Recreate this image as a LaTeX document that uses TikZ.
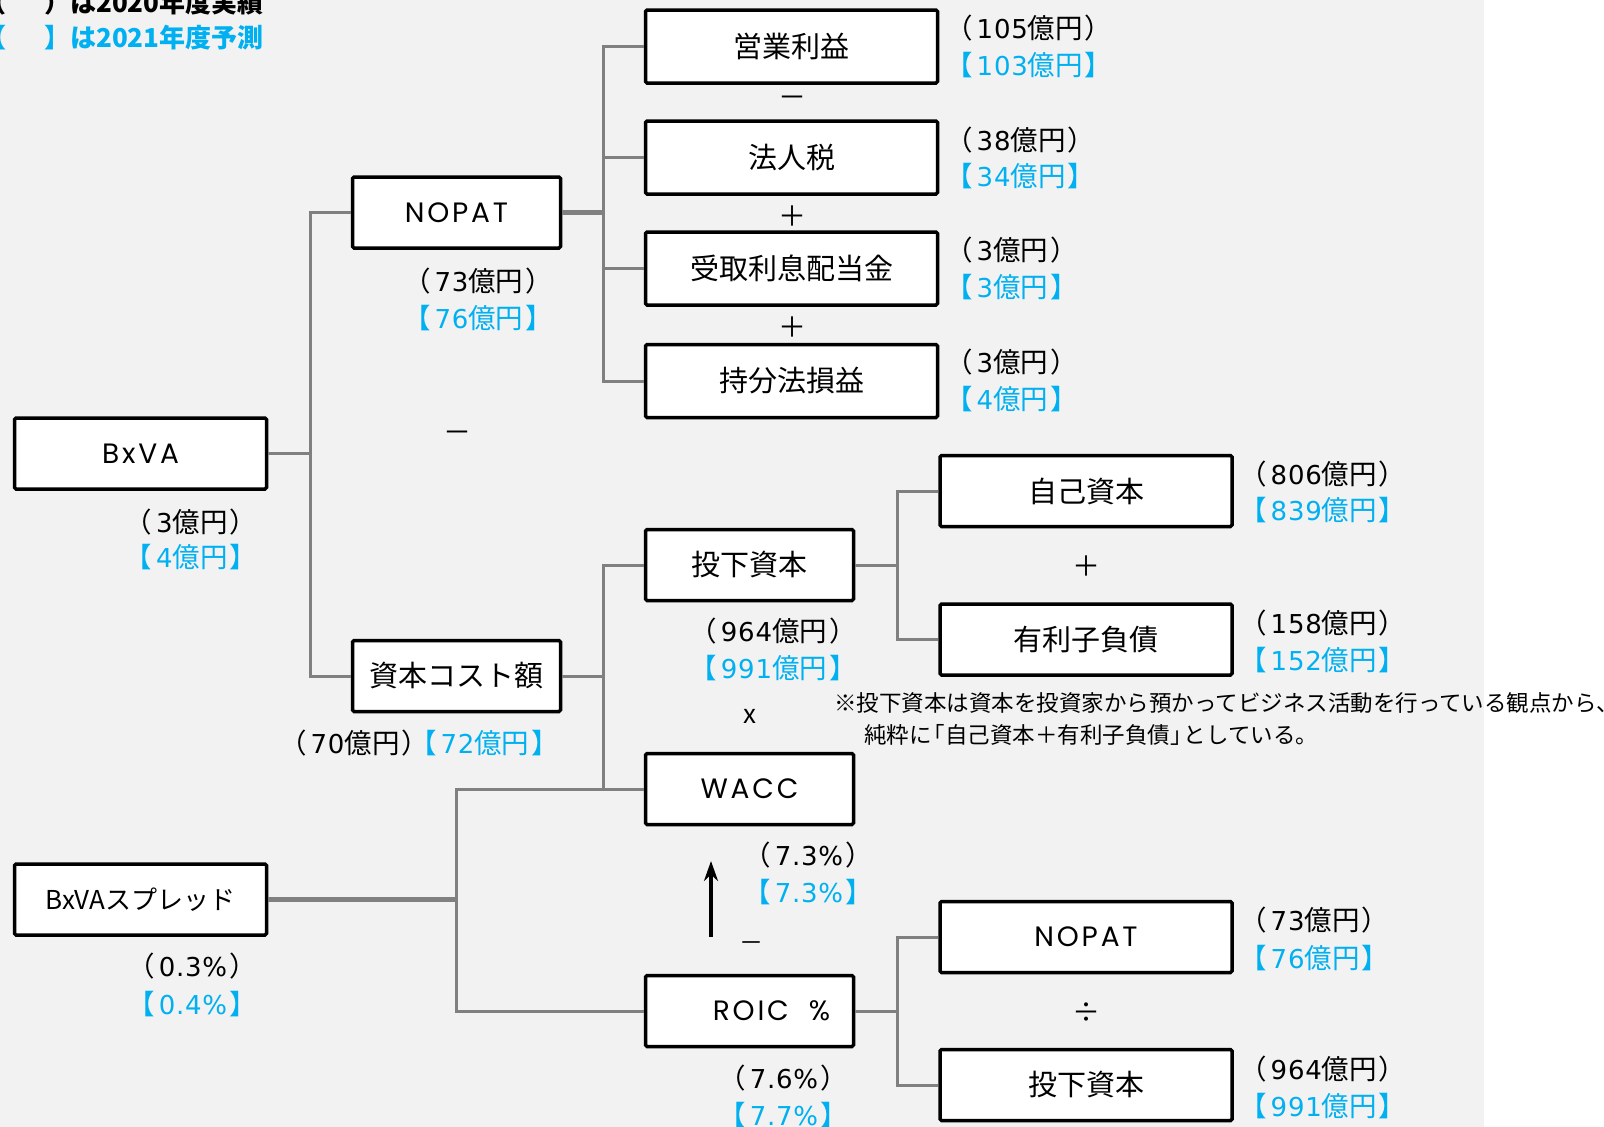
\documentclass[tikz,border=0pt]{standalone}
\usepackage{fontspec}
\newfontfamily\jp{Noto Sans CJK JP}
\newfontfamily\latb[LetterSpace=10]{Poppins}
\newfontfamily\latd[LetterSpace=3]{DejaVu Sans}
\usetikzlibrary{arrows.meta}
\definecolor{bg}{HTML}{F2F2F2}
\definecolor{cy}{HTML}{00B0F0}
\definecolor{ln}{HTML}{808080}
\newcommand\lt[1]{{\latb\fontsize{28}{30}\selectfont #1}}
\newcommand\dg[1]{\hspace{4pt}{\latd\fontsize{26}{29}\selectfont #1}}
\newcommand\pr[1]{（\dg{#1}億円\hspace{2pt}）}
\newcommand\br[1]{【\dg{#1}億円\hspace{2pt}】}
\newcommand\ppr[1]{（\dg{#1}\hspace{2pt}）}
\newcommand\pbr[1]{【\dg{#1}\hspace{2pt}】}
\begin{document}
\begin{tikzpicture}[x=1pt,y=-1pt,
  box/.style={draw=black, line width=3.5pt, fill=white, rounded corners=1.5pt, inner sep=0pt,
    minimum height=71pt, font=\jp\fontsize{29}{31}\selectfont},
  wbox/.style={box, minimum width=292pt},
  tbox/.style={wbox, minimum height=73pt},
  sbox/.style={box, minimum width=208pt},
  mbox/.style={box, minimum width=252pt},
  val/.style={inner sep=0pt, font=\jp\fontsize{27.5}{29}\selectfont},
  cval/.style={val, text=cy},
  op/.style={inner sep=0pt, font=\jp\fontsize{28}{30}\selectfont},
  conn/.style={draw=ln, line width=3pt},
  thick conn/.style={draw=ln, line width=4.5pt},
  note/.style={inner sep=0pt, anchor=west, font=\jp\fontsize{22.5}{24}\selectfont},
  legend/.style={inner sep=0pt, anchor=west, font=\jp\bfseries\fontsize{26}{28}\selectfont}
]
\useasboundingbox (0,0) rectangle (1604,1127);
\clip (0,0) rectangle (1604,1127);
\fill[white] (0,0) rectangle (1604,1127);
\fill[bg] (0,0) rectangle (1484,1127);

% legend
\node[legend] (leg1) at (-20,3) {（\hspace{38pt}）は2020年度実績};
\node[legend, text=cy] (leg2) at (-20,38) {【\hspace{38pt}】は2021年度予測};

% boxes
\node[tbox] (eigyo) at (791.5,46.5) {営業利益};
\node[tbox] (hojin) at (791.5,157.5) {法人税};
\node[tbox] (uketori) at (791.5,268.5) {受取利息配当金};
\node[tbox] (mochi) at (791.5,381) {持分法損益};
\node[sbox] (nopat1) at (456.5,212.5) {\lt{NOPAT}};
\node[mbox] (bxva) at (140.5,453.5) {\lt{BxVA}};
\node[sbox] (cost) at (456.5,676) {資本コスト額};
\node[sbox] (toka1) at (749.5,565) {投下資本};
\node[wbox] (jiko) at (1086,491) {自己資本};
\node[wbox] (yuri) at (1086,639.5) {有利子負債};
\node[sbox] (wacc) at (749.5,789) {\lt{WACC}};
\node[sbox] (roic) at (749.5,1011) {\hspace*{44pt}\lt{ROIC}\hspace{20pt}\lt{\%}};
\node[wbox] (nopat2) at (1086,937) {\lt{NOPAT}};
\node[wbox] (toka2) at (1086,1085) {投下資本};
\node[mbox, font=\jp\fontsize{26}{28}\selectfont] (spread) at (140.5,899.5) {BxVAスプレッド};

% connectors
\coordinate (j1) at (603,212.5);
\draw[thick conn] (nopat1.east) -- (j1);
\draw[conn] (eigyo.west) -| (j1) |- (mochi.west);
\draw[conn] (hojin.west) -- (hojin.west -| j1);
\draw[conn] (uketori.west) -- (uketori.west -| j1);

\coordinate (j2) at (310,453.5);
\draw[conn] (bxva.east) -- (j2);
\draw[conn] (nopat1.west) -| (j2) |- (cost.west);

\coordinate (j3) at (603,676);
\draw[conn] (cost.east) -- (j3);
\draw[conn] (toka1.west) -| (j3) |- (wacc.west);

\coordinate (j4) at (897,565);
\draw[conn] (toka1.east) -- (j4);
\draw[conn] (jiko.west) -| (j4) |- (yuri.west);

\coordinate (j5) at (456,899.5);
\draw[thick conn] (spread.east) -- (j5);
\draw[conn] (wacc.west) -| (j5) |- (roic.west);

\coordinate (j6) at (897,1011);
\draw[conn] (roic.east) -- (j6);
\draw[conn] (nopat2.west) -| (j6) |- (toka2.west);

% arrow
\coordinate (a1) at (711,937);
\coordinate (a2) at (711,861);
\draw[line width=3.5pt, -{Stealth[length=20pt,width=14pt]}] (a1) -- (a2);

% operators
\node[op] (o1) at (792,102) {－};
\node[op] (o2) at (792,216) {＋};
\node[op] (o3) at (792,327) {＋};
\node[op] (o4) at (457,437) {－};
\node[op] (o5) at (1086,566) {＋};
\node[op, font=\jp\fontsize{26}{28}\selectfont] (o6) at (750,716) {x};
\node[op, font=\jp\fontsize{24}{26}\selectfont] (o7) at (751,947) {－};
\node[op] (o8) at (1086,1013) {÷};

% values right of boxes
\node[val, anchor=west] (v1) at (945,28) {\pr{105}};
\node[cval, anchor=west] (c1) at (945,65) {\br{103}};
\node[val, anchor=west] (v2) at (945,140) {\pr{38}};
\node[cval, anchor=west] (c2) at (945,176) {\br{34}};
\node[val, anchor=west] (v3) at (945,250) {\pr{3}};
\node[cval, anchor=west] (c3) at (945,287) {\br{3}};
\node[val, anchor=west] (v4) at (945,362) {\pr{3}};
\node[cval, anchor=west] (c4) at (945,399) {\br{4}};

\node[val, anchor=west] (v5) at (1239,474) {\pr{806}};
\node[cval, anchor=west] (c5) at (1239,510) {\br{839}};
\node[val, anchor=west] (v6) at (1239,623) {\pr{158}};
\node[cval, anchor=west] (c6) at (1239,660) {\br{152}};
\node[val, anchor=west] (v7) at (1239,920) {\pr{73}};
\node[cval, anchor=west] (c7) at (1239,958) {\br{76}};
\node[val, anchor=west] (v8) at (1239,1069) {\pr{964}};
\node[cval, anchor=west] (c8) at (1239,1106) {\br{991}};

% values below boxes
\node[val] (v9) at (478,281) {\pr{73}};
\node[cval] (c9) at (478,318) {\br{76}};
\node[val] (v10) at (191,522) {\pr{3}};
\node[cval] (c10) at (191,557) {\br{4}};
\node[val] (v11) at (419,743) {\pr{70}\hspace{-20pt}\textcolor{cy}{\br{72}}};
\node[val] (v12) at (773,631) {\pr{964}};
\node[cval] (c12) at (773,668) {\br{991}};
\node[val] (v13) at (808,855) {\ppr{7.3\%}};
\node[cval] (c13) at (808,892) {\pbr{7.3\%}};
\node[val] (v14) at (783,1078) {\ppr{7.6\%}};
\node[cval] (c14) at (783,1115) {\pbr{7.7\%}};
\node[val] (v15) at (192,966) {\ppr{0.3\%}};
\node[cval] (c15) at (192,1004) {\pbr{0.4\%}};

% note
\node[note] (n1) at (834,703) {※投下資本は資本を投資家から預かってビジネス活動を行っている観点から、};
\node[note] (n2) at (864,735) {純粋に\hspace{-9pt}「自己資本＋有利子負債」\hspace{-9pt}としている。};
\end{tikzpicture}
\end{document}
